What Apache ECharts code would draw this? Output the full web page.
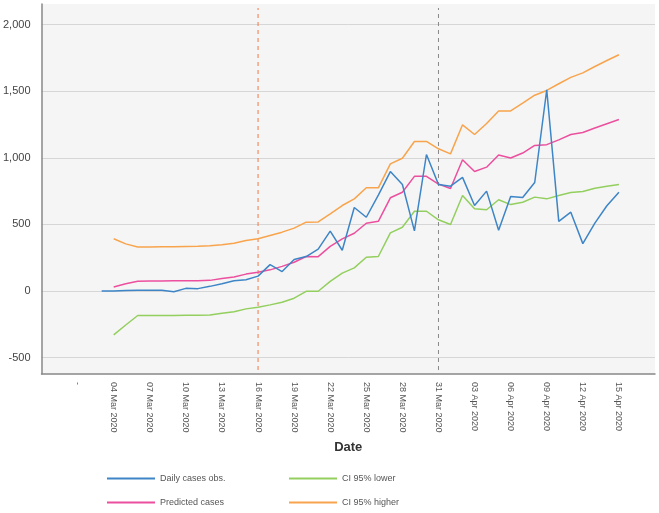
<!DOCTYPE html>
<html>
<head>
<meta charset="utf-8">
<script src="https://cdn.jsdelivr.net/npm/echarts@6/dist/echarts.min.js"></script>
<style>
  html, body { margin: 0; padding: 0; background: #fff; }
  #chart { width: 659px; height: 513px; }
</style>
</head>
<body>
<div id="chart"></div>
<script>
// one entry per day, 01 Mar 2020 .. 15 Apr 2020 (first date shown as "-")
const dates = [
  "-", "02 Mar 2020", "03 Mar 2020", "04 Mar 2020", "05 Mar 2020", "06 Mar 2020",
  "07 Mar 2020", "08 Mar 2020", "09 Mar 2020", "10 Mar 2020", "11 Mar 2020", "12 Mar 2020",
  "13 Mar 2020", "14 Mar 2020", "15 Mar 2020", "16 Mar 2020", "17 Mar 2020", "18 Mar 2020",
  "19 Mar 2020", "20 Mar 2020", "21 Mar 2020", "22 Mar 2020", "23 Mar 2020", "24 Mar 2020",
  "25 Mar 2020", "26 Mar 2020", "27 Mar 2020", "28 Mar 2020", "29 Mar 2020", "30 Mar 2020",
  "31 Mar 2020", "01 Apr 2020", "02 Apr 2020", "03 Apr 2020", "04 Apr 2020", "05 Apr 2020",
  "06 Apr 2020", "07 Apr 2020", "08 Apr 2020", "09 Apr 2020", "10 Apr 2020", "11 Apr 2020",
  "12 Apr 2020", "13 Apr 2020", "14 Apr 2020", "15 Apr 2020"
];

const dailyObs = [
  null, null, 0, 0, 3, 5, 5, 5, -6, 20, 18, 35, 55, 77, 84, 112, 198, 146, 236, 259,
  314, 450, 306, 627, 554, 720, 897, 800, 452, 1025, 800, 787, 853, 642, 750, 457,
  710, 702, 815, 1511, 523, 592, 356, 510, 640, 742
];
const predicted = [
  null, null, null, 30, 54, 74, 75, 76, 77, 78, 78, 80, 94, 106, 127, 141, 159, 185, 216, 259,
  258, 335, 392, 434, 509, 523, 700, 742, 861, 861, 803, 770, 985, 898, 930, 1021,
  999, 1036, 1093, 1099, 1135, 1175, 1190, 1224, 1256, 1288
];
const ciLower = [
  null, null, null, -329, -255, -184, -184, -183, -183, -182, -181, -180, -167, -155, -134, -122, -104, -84, -54, -2,
  -2, 72, 134, 174, 254, 259, 437, 479, 599, 599, 535, 499, 717, 617, 610, 685,
  649, 667, 705, 692, 717, 740, 747, 772, 787, 800
];
const ciHigher = [
  null, null, null, 392, 354, 330, 330, 332, 333, 335, 337, 340, 348, 358, 379, 392, 417, 442, 472, 517,
  519, 580, 642, 692, 775, 775, 955, 997, 1123, 1123, 1068, 1030, 1248, 1175, 1258, 1352,
  1352, 1410, 1470, 1506, 1556, 1604, 1638, 1686, 1731, 1774
];

const yTicks = [-500, 0, 500, 1000, 1500, 2000];
const yMin = -623;
const yMax = 2155;
// dashed vertical markers: [date, colour]
const markerDates = ["16 Mar 2020", "31 Mar 2020"];
const markerColors = ["#f0784a", "#8a8a8a"];

function toPoints(arr) {
  return arr.map((v, i) => [i, v]).filter((p) => p[1] !== null);
}

function lineSeries(name, data, color, extra) {
  return Object.assign({
    name: name,
    type: "line",
    data: toPoints(data),
    symbol: "none",
    animation: false,
    lineStyle: { color: color, width: 1.5 },
    itemStyle: { color: color },
  }, extra || {});
}

// a vertical dashed line at one date, spanning the value axis (min-ish to max-ish)
function markerSeries(dateLabel, color) {
  const x = dates.indexOf(dateLabel);
  return {
    type: "line",
    silent: true,
    symbol: "none",
    animation: false,
    z: 1,
    data: [[x, yMin + 30], [x, yMax - 30]],
    lineStyle: { color: color, type: [4, 4], width: 1 },
    itemStyle: { color: color },
    tooltip: { show: false },
  };
}

const legendBase = {
  orient: "vertical",
  top: 474,
  padding: 0,
  itemWidth: 48, itemHeight: 2, itemGap: 15,
  icon: "rect",
  textStyle: { color: "#555", fontSize: 9 },
};

const chart = echarts.init(document.getElementById("chart"));

const option = {
  backgroundColor: "#fff",
  textStyle: { fontFamily: "Liberation Sans, Arial, sans-serif" },
  grid: {
    left: 40, right: 4, top: 4, bottom: 139,
    show: true,
    backgroundColor: "#f5f5f5",
    borderWidth: 0,
  },
  legend: [
    Object.assign({}, legendBase, { left: 107, data: ["Daily cases obs.", "Predicted cases"] }),
    Object.assign({}, legendBase, { left: 289, data: ["CI 95% lower", "CI 95% higher"] }),
  ],
  xAxis: {
    type: "value",
    min: -3,
    max: 48,
    interval: 3,
    name: "Date",
    nameLocation: "middle",
    nameGap: 64,
    nameTextStyle: { color: "#333", fontSize: 13, fontWeight: "bold" },
    axisLine: { show: true, onZero: false, lineStyle: { color: "#888", width: 1.5 } },
    axisTick: { show: false },
    splitLine: { show: false },
    axisLabel: {
      rotate: -90,
      margin: 8,
      fontSize: 9,
      color: "#555",
      showMinLabel: false,
      showMaxLabel: false,
      formatter: (v) => (dates[v] !== undefined ? dates[v] : ""),
    },
  },
  yAxis: {
    type: "value",
    min: yMin,
    max: yMax,
    axisLine: { show: true, onZero: false, lineStyle: { color: "#888", width: 1.5 } },
    axisTick: { show: false, customValues: yTicks },
    axisLabel: {
      customValues: yTicks,
      margin: 11,
      fontSize: 11,
      color: "#444",
      formatter: (v) => v.toLocaleString("en-US"),
    },
    splitLine: { show: true, lineStyle: { color: "#d6d6d6", width: 1 } },
  },
  series: [
    markerSeries(markerDates[0], markerColors[0]),
    markerSeries(markerDates[1], markerColors[1]),
    lineSeries("Daily cases obs.", dailyObs, "#3d85c6", { z: 4 }),
    lineSeries("Predicted cases", predicted, "#ec4f9e", { z: 3 }),
    lineSeries("CI 95% lower", ciLower, "#93cf5e", { z: 2 }),
    lineSeries("CI 95% higher", ciHigher, "#f8a44c", { z: 2 }),
  ],
};

chart.setOption(option);
</script>
</body>
</html>
